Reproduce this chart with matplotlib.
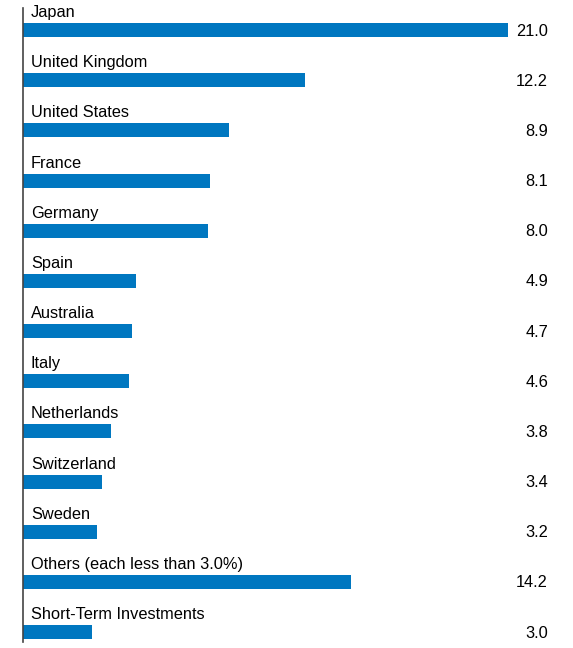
import matplotlib.pyplot as plt

countries = ["Japan", "United Kingdom", "United States", "France", "Germany",
             "Spain", "Australia", "Italy", "Netherlands", "Switzerland",
             "Sweden", "Others (each less than 3.0%)", "Short-Term Investments"]
weights = [21.0, 12.2, 8.9, 8.1, 8.0, 4.9, 4.7, 4.6, 3.8, 3.4, 3.2, 14.2, 3.0]

plt.rcParams['font.family'] = ['Liberation Sans', 'DejaVu Sans']

fig = plt.figure(figsize=(5.73, 6.48), dpi=100)
ax = fig.add_axes([23 / 573, 0, 550 / 573, 1])

px = 23.1     # pixels per unit on x
row = 50.17   # pixels per row
ax.set_xlim(0, 550 / px)
ax.set_ylim((648 - 30) / row, -30 / row)

idx = list(range(len(countries)))
ax.barh(idx, weights, height=14 / row, color="#0077C0", align="center")

for i, (name, w) in enumerate(zip(countries, weights)):
    ax.text(8 / px, i - 13 / row, name, fontsize=11.8, ha="left", va="baseline")
    ax.text(525 / px, i + 1 / row, f"{w:.1f}", fontsize=11.8, ha="right", va="center")

for s in ["top", "right", "bottom"]:
    ax.spines[s].set_visible(False)
ax.spines["left"].set_bounds(-22 / row, 612 / row)
ax.spines["left"].set_color("#444444")
ax.spines["left"].set_linewidth(1.2)
ax.set_xticks([])
ax.set_yticks([])

fig.savefig("out.png", dpi=100)
